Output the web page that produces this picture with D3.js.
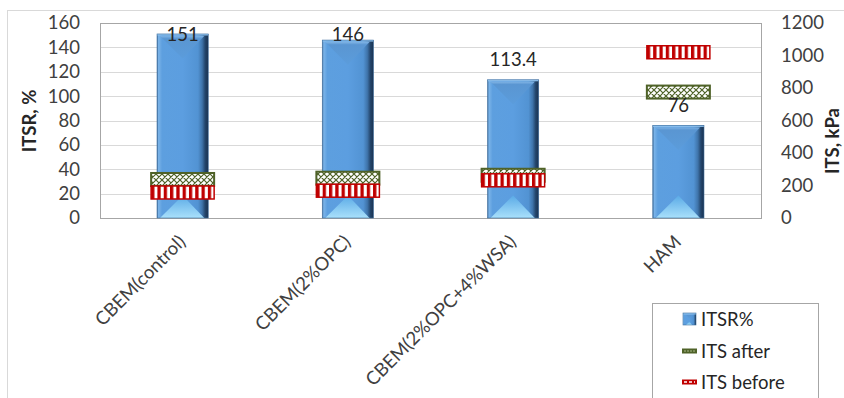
<!DOCTYPE html>
<html>
<head>
<meta charset="utf-8">
<script src="https://cdn.jsdelivr.net/npm/d3@7"></script>
<style>
  body { margin: 0; background: #fff; }
  svg text { font-family: Lato, "Open Sans", sans-serif; }
</style>
</head>
<body>
<svg id="chart" width="844" height="398"></svg>
<script>
// ---- data ----
const categories = ["CBEM(control)", "CBEM(2%OPC)", "CBEM(2%OPC+4%WSA)", "HAM"];
const itsrValues = [151, 146, 113.4, 76];          // ITSR, % (left axis)
const itsAfterValues = [237, 245, 263, 775];       // ITS after, kPa (right axis)
const itsBeforeValues = [157, 168, 232, 1020];     // ITS before, kPa (right axis)
const leftTicks = [0, 20, 40, 60, 80, 100, 120, 140, 160];
const rightTicks = [0, 200, 400, 600, 800, 1000, 1200];
const seriesNames = ["ITSR%", "ITS after", "ITS before"];
const leftTitle = "ITSR, %";
const rightTitle = "ITS, kPa";

// ---- layout ----
const W = 844, H = 398;
const plot = { left: 100, right: 761, top: 23, bottom: 218 };
const fontSize = 18.5;
const textColor = "#404040";
const greenDark = "#4f6228";
const redDark = "#c00000";

const svg = d3.select("#chart");
const defs = svg.append("defs");

const x = d3.scaleBand().domain(categories)
  .range([plot.left, plot.right]).paddingInner(0.69).paddingOuter(0.345);
const yL = d3.scaleLinear().domain([0, 160]).range([plot.bottom, plot.top]);
const yR = d3.scaleLinear().domain([0, 1200]).range([plot.bottom, plot.top]);

// ---- gradients / patterns ----
function linGrad(id, x1, y1, x2, y2, stops) {
  const g = defs.append("linearGradient").attr("id", id)
    .attr("x1", x1).attr("y1", y1).attr("x2", x2).attr("y2", y2);
  stops.forEach(([o, c]) => g.append("stop").attr("offset", o).attr("stop-color", c));
}
linGrad("barBody", 0, 0, 1, 0, [
  [0, "#3d6c9c"], [0.03, "#7ab3e8"], [0.1, "#5d9fdf"], [0.5, "#5c9ee0"],
  [0.8, "#5293d3"], [0.88, "#3f74aa"], [0.94, "#23456b"], [1, "#1a3250"]
]);
linGrad("barTop", 0, 0, 0, 1, [[0, "#7fb3e4"], [0.12, "#5a96d2"], [1, "#5b9cdb"]]);
linGrad("barBottom", 0, 0, 0, 1, [[0, "#5aaae6"], [1, "#a9e0fb"]]);

const stripes = defs.append("pattern").attr("id", "stripes")
  .attr("patternUnits", "objectBoundingBox").attr("patternContentUnits", "objectBoundingBox")
  .attr("width", 0.1).attr("height", 1);
stripes.append("rect").attr("width", 0.1).attr("height", 1).attr("fill", "#fff");
stripes.append("rect").attr("width", 0.052).attr("height", 1).attr("fill", redDark);

const hatch = defs.append("pattern").attr("id", "hatch")
  .attr("patternUnits", "userSpaceOnUse").attr("width", 6).attr("height", 6);
hatch.append("rect").attr("width", 6).attr("height", 6).attr("fill", "#fff");
hatch.append("path").attr("d", "M0,0 L6,6 M6,0 L0,6 M-1,5 L1,7 M5,-1 L7,1")
  .attr("stroke", greenDark).attr("stroke-width", 1.2).attr("fill", "none");

// ---- outer chart frame ----
svg.append("rect").attr("x", 7.5).attr("y", 10.5).attr("width", W + 20).attr("height", H + 20)
  .attr("fill", "none").attr("stroke", "#d9d9d9");

// ---- gridlines ----
svg.append("g").selectAll("line").data(leftTicks.slice(1)).join("line")
  .attr("x1", plot.left).attr("x2", plot.right)
  .attr("y1", d => Math.round(yL(d)) + 0.5).attr("y2", d => Math.round(yL(d)) + 0.5)
  .attr("stroke", "#d9d9d9").attr("stroke-width", 1.2);

// plot border
svg.append("rect")
  .attr("x", plot.left + 0.5).attr("y", plot.top + 0.5)
  .attr("width", plot.right - plot.left).attr("height", plot.bottom - plot.top)
  .attr("fill", "none").attr("stroke", "#a6a6a6");

// ---- axes ----
const leftAxis = svg.append("g").attr("transform", `translate(${plot.left - 20},0)`)
  .call(d3.axisLeft(yL).tickValues(leftTicks).tickFormat(d3.format("d")).tickSize(0).tickPadding(0));
const rightAxis = svg.append("g").attr("transform", `translate(${plot.right + 20},0)`)
  .call(d3.axisRight(yR).tickValues(rightTicks).tickFormat(d3.format("d")).tickSize(0).tickPadding(0));
[leftAxis, rightAxis].forEach(a => {
  a.select(".domain").remove();
  a.selectAll("text").attr("font-size", fontSize).attr("fill", textColor)
    .style("font-family", "Lato, sans-serif");
});

svg.append("text").text(leftTitle)
  .attr("transform", "translate(29,121) rotate(-90)")
  .attr("text-anchor", "middle").attr("dominant-baseline", "central")
  .attr("font-size", fontSize).attr("font-weight", "bold").attr("fill", "#262626");
svg.append("text").text(rightTitle)
  .attr("transform", "translate(832,141) rotate(-90)")
  .attr("text-anchor", "middle").attr("dominant-baseline", "central")
  .attr("font-size", fontSize).attr("font-weight", "bold").attr("fill", "#262626");

// category labels, rotated
svg.append("g").selectAll("text").data(categories).join("text")
  .text(d => d)
  .attr("transform", d => `translate(${x(d) + x.bandwidth() / 2 + 4},243) rotate(-45)`)
  .attr("text-anchor", "end")
  .attr("font-size", fontSize).attr("fill", textColor);

// ---- beveled bar drawing ----
function bevelBar(g, x0, y0, w, h) {
  const x1 = x0 + w, y1 = y0 + h, xc = x0 + w / 2;
  const d = Math.min(w / 2 - 3, h / 2);
  g.append("rect").attr("x", x0).attr("y", y0).attr("width", w).attr("height", h)
    .attr("fill", "url(#barBody)");
  g.append("path").attr("d", `M${x0 + 3},${y0 + 2} L${x1 - 4},${y0 + 2} L${xc},${y0 + 2 + d} Z`)
    .attr("fill", "url(#barTop)");
  g.append("path").attr("d", `M${x0 + 3},${y1} L${x1 - 4},${y1} L${xc},${y1 - d} Z`)
    .attr("fill", "url(#barBottom)");
  g.append("rect").attr("x", x0).attr("y", y0).attr("width", w).attr("height", 1.5)
    .attr("fill", "#8fc2ee");
  g.append("rect").attr("x", x0).attr("y", y0).attr("width", w).attr("height", h)
    .attr("fill", "none").attr("stroke", "#3f6f9f").attr("stroke-width", 0.6);
}

const barsG = svg.append("g");
itsrValues.forEach((v, i) => {
  const c = categories[i];
  bevelBar(barsG.append("g"), x(c), yL(v), x.bandwidth(), yL(0) - yL(v));
});

// ---- ITS markers (right axis) ----
const markW = x.bandwidth() * 1.23, markH = 13;
const markG = svg.append("g");
function marker(cx, cy, kind) {
  const r = markG.append("rect")
    .attr("x", cx - markW / 2).attr("y", cy - markH / 2)
    .attr("width", markW).attr("height", markH);
  if (kind === "after") r.attr("fill", "url(#hatch)").attr("stroke", greenDark).attr("stroke-width", 2);
  else r.attr("fill", "url(#stripes)").attr("stroke", redDark).attr("stroke-width", 1.5);
}
categories.forEach((c, i) => {
  const cx = x(c) + x.bandwidth() / 2;
  marker(cx, yR(itsAfterValues[i]), "after");
  marker(cx, yR(itsBeforeValues[i]), "before");
});

// ---- data labels ----
svg.append("g").selectAll("text").data(itsrValues).join("text")
  .text(d => d)
  .attr("x", (d, i) => x(categories[i]) + x.bandwidth() / 2)
  .attr("y", d => Math.max(yL(d) - 20.5, 34))
  .attr("text-anchor", "middle").attr("dominant-baseline", "central")
  .attr("font-size", fontSize).attr("fill", "#262626");

// ---- legend ----
const lg = svg.append("g");
lg.append("rect").attr("x", 652.5).attr("y", 303.5).attr("width", 166).attr("height", 120)
  .attr("fill", "#fff").attr("stroke", "#a6a6a6");
const legendY = [319, 351, 382];
seriesNames.forEach((name, i) => {
  const cy = legendY[i];
  if (i === 0) {
    bevelBar(lg.append("g"), 683, cy - 6, 13, 12);
  } else if (i === 1) {
    lg.append("rect").attr("x", 682).attr("y", cy - 2.5).attr("width", 15).attr("height", 5)
      .attr("fill", greenDark);
    lg.append("line").attr("x1", 684).attr("x2", 695).attr("y1", cy).attr("y2", cy)
      .attr("stroke", "#a9b98a").attr("stroke-width", 1).attr("stroke-dasharray", "2,1");
  } else {
    lg.append("rect").attr("x", 682).attr("y", cy - 2.5).attr("width", 15).attr("height", 5)
      .attr("fill", redDark);
    lg.append("line").attr("x1", 684).attr("x2", 695).attr("y1", cy).attr("y2", cy)
      .attr("stroke", "#fff").attr("stroke-width", 1.5).attr("stroke-dasharray", "3,2");
  }
  lg.append("text").text(name).attr("x", 701).attr("y", cy)
    .attr("dominant-baseline", "central")
    .attr("font-size", fontSize).attr("fill", "#262626");
});
</script>
</body>
</html>
